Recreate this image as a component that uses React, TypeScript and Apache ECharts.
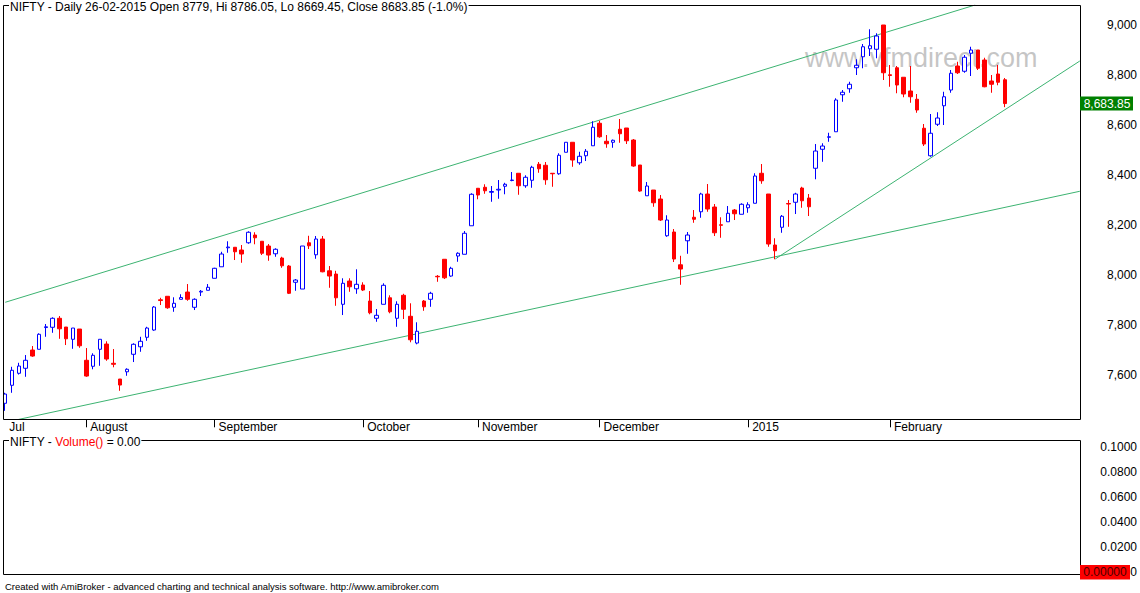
import React, { useEffect, useRef } from "react";
import * as echarts from "echarts";

// ---- data ----
const opens = [
  7485, 7557, 7605, 7625, 7698, 7701, 7788, 7789, 7825, 7790, 7741, 7782,
  7657, 7633, 7701, 7722, 7645, 7582, 7611, 7681, 7711, 7749, 7778, 7899,
  7913, 7869, 7901, 7930, 7869, 7930, 7937, 7985, 8031, 8107, 8109, 8098,
  8127, 8158, 8133, 8114, 8083, 8066, 8034, 7969, 7942, 8127, 8079, 8142,
  8015, 8002, 7881, 7974, 7943, 7958, 7894, 7825, 7881, 7907, 7825, 7917,
  7833, 7726, 7894, 7901, 7993, 8061, 7994, 8074, 8081, 8195, 8345, 8349,
  8329, 8338, 8353, 8376, 8405, 8355, 8377, 8441, 8437, 8405, 8403, 8489,
  8529, 8447, 8475, 8515, 8605, 8533, 8529, 8581, 8586, 8538, 8438, 8315,
  8338, 8302, 8155, 8170, 8039, 8135, 8229, 8251, 8322, 8270, 8199, 8211,
  8258, 8241, 8267, 8285, 8405, 8322, 8118, 8189, 8284, 8289, 8346, 8306,
  8425, 8501, 8549, 8571, 8719, 8743, 8827, 8871, 8903, 8901, 8998, 8799,
  8827, 8789, 8734, 8701, 8585, 8475, 8601, 8675, 8738, 8834, 8813, 8885,
  8898, 8858, 8774, 8802, 8779,
];
const closes = [
  7522, 7617, 7634, 7657, 7674, 7761, 7791, 7825, 7783, 7743, 7786, 7715,
  7594, 7677, 7741, 7662, 7641, 7558, 7621, 7721, 7733, 7786, 7870, 7896,
  7867, 7885, 7908, 7901, 7901, 7933, 7949, 8025, 8082, 8110, 8091, 8082,
  8169, 8147, 8085, 8078, 8101, 8035, 7925, 7978, 8114, 8115, 8142, 8011,
  7994, 7907, 7965, 7951, 7961, 7938, 7847, 7837, 7957, 7851, 7881, 7861,
  7739, 7773, 7871, 7925, 7991, 7987, 8025, 8085, 8165, 8321, 8318, 8335,
  8332, 8341, 8361, 8378, 8355, 8389, 8429, 8423, 8379, 8403, 8477, 8529,
  8458, 8473, 8493, 8589, 8551, 8523, 8537, 8563, 8535, 8434, 8334, 8354,
  8287, 8218, 8218, 8062, 8022, 8158, 8221, 8322, 8262, 8167, 8197, 8245,
  8243, 8281, 8279, 8394, 8375, 8122, 8095, 8233, 8282, 8322, 8295, 8271,
  8494, 8514, 8551, 8698, 8729, 8761, 8837, 8911, 8915, 8954, 8807, 8796,
  8758, 8722, 8711, 8658, 8522, 8565, 8626, 8711, 8805, 8807, 8869, 8898,
  8825, 8751, 8761, 8769, 8683.85,
];
const lows = [
  7455, 7527, 7600, 7591, 7671, 7701, 7751, 7767, 7743, 7718, 7703, 7707,
  7591, 7621, 7635, 7655, 7629, 7535, 7595, 7650, 7691, 7735, 7775, 7878,
  7863, 7851, 7901, 7895, 7858, 7914, 7937, 7985, 8031, 8087, 8058, 8047,
  8123, 8121, 8078, 8055, 8071, 8027, 7922, 7935, 7942, 8102, 8063, 8009,
  7947, 7875, 7838, 7931, 7923, 7934, 7841, 7811, 7881, 7845, 7791, 7822,
  7729, 7721, 7855, 7871, 7971, 7982, 7991, 8051, 8081, 8195, 8301, 8323,
  8291, 8303, 8321, 8373, 8319, 8347, 8347, 8407, 8359, 8351, 8399, 8489,
  8431, 8439, 8454, 8515, 8547, 8507, 8507, 8527, 8522, 8431, 8331, 8315,
  8271, 8214, 8151, 8050, 7959, 8083, 8207, 8227, 8251, 8154, 8147, 8211,
  8218, 8241, 8247, 8285, 8363, 8111, 8061, 8167, 8191, 8242, 8267, 8234,
  8381, 8451, 8531, 8571, 8691, 8727, 8798, 8825, 8874, 8865, 8778, 8751,
  8725, 8709, 8687, 8647, 8514, 8471, 8594, 8598, 8727, 8802, 8807, 8794,
  8818, 8749, 8727, 8757, 8669.45,
];
const highs = [
  7527, 7631, 7647, 7678, 7714, 7765, 7802, 7829, 7834, 7790, 7786, 7782,
  7706, 7685, 7741, 7733, 7702, 7582, 7625, 7725, 7751, 7791, 7874, 7907,
  7913, 7909, 7921, 7962, 7905, 7938, 7962, 8027, 8091, 8133, 8109, 8118,
  8173, 8169, 8133, 8122, 8105, 8071, 8038, 7982, 8114, 8155, 8154, 8154,
  8034, 8015, 7985, 7985, 8021, 7969, 7934, 7862, 7965, 7917, 7893, 7923,
  7885, 7809, 7898, 7931, 7998, 8061, 8031, 8089, 8174, 8325, 8345, 8361,
  8354, 8378, 8367, 8410, 8405, 8397, 8435, 8450, 8450, 8405, 8485, 8529,
  8529, 8491, 8502, 8613, 8615, 8558, 8540, 8622, 8586, 8542, 8438, 8370,
  8338, 8318, 8237, 8182, 8075, 8170, 8258, 8327, 8362, 8282, 8229, 8274,
  8262, 8285, 8289, 8405, 8442, 8322, 8145, 8238, 8298, 8327, 8351, 8322,
  8522, 8525, 8567, 8705, 8738, 8771, 8861, 8922, 8981, 8965, 8998, 8838,
  8834, 8789, 8834, 8722, 8602, 8642, 8649, 8731, 8818, 8851, 8878, 8911,
  8898, 8867, 8798, 8838, 8786.05,
];

const monthStartIdx = [0, 12, 31, 53, 70, 88, 110, 131];
const monthLabels = ["Jul", "August", "September", "October", "November", "December", "2015", "February"];
const totalSlots = 160;

const priceTicks = [7600, 7800, 8000, 8200, 8400, 8600, 8800, 9000];
const volumeTicks = [0, 0.02, 0.04, 0.06, 0.08, 0.1];

const trendTop = [[0, 7889], [143.6, 9078]];
const trendLow = [[0, 7409], [159.1, 8333]];
const trendRise = [[114, 8062], [159.1, 8854]];

const titleText =
  "NIFTY - Daily 26-02-2015 Open 8779, Hi 8786.05, Lo 8669.45, Close 8683.85 (-1.0%)";
const lastClose = 8683.85;
const lastCloseLabel = "8,683.85";
const volumeValueLabel = "0.00";
const watermark = "www.vfmdirect.com";
const footer =
  "Created with AmiBroker - advanced charting and technical analysis software. http://www.amibroker.com";

const FONT = '"Liberation Sans", Arial, sans-serif';

export default function App() {
  const ref = useRef<HTMLDivElement>(null);

  useEffect(() => {
    if (!ref.current) return;
    const chart = echarts.init(ref.current, undefined, { renderer: "svg" });

    const bandW = 6.754;
    const gridLeft = 1.87;
    const gridWidth = bandW * totalSlots;

    const cats: string[] = [];
    for (let i = 0; i < totalSlots; i++) {
      const k = monthStartIdx.indexOf(i);
      cats.push(k >= 0 ? monthLabels[k] : "");
    }
    const candles = opens.map((o, i) => [o, closes[i], lows[i], highs[i]]);

    const lineSeries = (data: number[][]) => ({
      type: "line",
      xAxisIndex: 1,
      yAxisIndex: 0,
      data,
      symbol: "none",
      showSymbol: false,
      silent: true,
      clip: true,
      lineStyle: { color: "#3cb371", width: 1 },
      z: 2,
    });

    const option: any = {
      animation: false,
      textStyle: { fontFamily: FONT },
      grid: [
        { left: gridLeft, top: 5, width: gridWidth, height: 414.3, show: false },
        { left: gridLeft, top: 440.5, width: gridWidth, height: 133.5, show: false },
      ],
      xAxis: [
        {
          type: "category",
          gridIndex: 0,
          data: cats,
          boundaryGap: true,
          axisLine: { show: false },
          axisTick: {
            show: true,
            alignWithLabel: true,
            interval: (i: number) => i !== 0 && monthStartIdx.includes(i),
            length: 8,
            lineStyle: { color: "#000", width: 1 },
          },
          axisLabel: {
            interval: (i: number) => monthStartIdx.includes(i),
            align: "left",
            padding: [0, 0, 0, 4],
            margin: 2,
            color: "#000",
            fontSize: 12,
            fontFamily: FONT,
          },
          splitLine: { show: false },
        },
        { type: "value", gridIndex: 0, min: -0.5, max: totalSlots - 0.5, show: false },
        { type: "category", gridIndex: 1, data: cats, show: false },
      ],
      yAxis: [
        {
          type: "value",
          gridIndex: 0,
          position: "right",
          min: 7421,
          max: 9078,
          axisLine: { show: false },
          axisTick: { show: false },
          splitLine: { show: false },
          axisLabel: {
            customValues: priceTicks,
            formatter: (v: number) => v.toLocaleString("en-US"),
            align: "right",
            margin: 1137 - (gridLeft + gridWidth),
            color: "#000",
            fontSize: 12,
            fontFamily: FONT,
          },
        },
        {
          type: "value",
          gridIndex: 1,
          position: "right",
          min: -0.00193,
          max: 0.10547,
          axisLine: { show: false },
          axisTick: { show: false },
          splitLine: { show: false },
          axisLabel: {
            customValues: volumeTicks,
            // the zero label is mostly hidden behind the red value tag; only its last digit shows
            formatter: (v: number) => (v === 0 ? "0" : v.toFixed(4)),
            align: "right",
            margin: 1137 - (gridLeft + gridWidth),
            color: "#000",
            fontSize: 12,
            fontFamily: FONT,
          },
        },
      ],
      series: [
        {
          type: "candlestick",
          xAxisIndex: 0,
          yAxisIndex: 0,
          data: candles,
          barWidth: 4,
          itemStyle: {
            color: "#ffffff",
            color0: "#ff0000",
            borderColor: "#0000ff",
            borderColor0: "#ff0000",
            borderWidth: 1,
          },
          z: 3,
        },
        lineSeries(trendTop),
        lineSeries(trendLow),
        lineSeries(trendRise),
      ],
    };
    chart.setOption(option);

    const yClose = chart.convertToPixel({ yAxisIndex: 0 } as any, lastClose) as number;
    const yZero = chart.convertToPixel({ yAxisIndex: 1 } as any, 0) as number;

    chart.setOption({
      graphic: [
        {
          type: "text",
          z: 0,
          silent: true,
          style: {
            text: watermark,
            x: 805,
            y: 57.5,
            font: `27px ${FONT}`,
            fill: "rgba(140,140,140,0.5)",
            align: "left",
            verticalAlign: "middle",
          },
        },
        {
          type: "rect",
          z: 20,
          silent: true,
          shape: { x: 3.5, y: 5.5, width: 1077, height: 414 },
          style: { fill: "none", stroke: "#000", lineWidth: 1 },
        },
        {
          type: "rect",
          z: 20,
          silent: true,
          shape: { x: 3.5, y: 440.5, width: 1077, height: 134 },
          style: { fill: "none", stroke: "#000", lineWidth: 1 },
        },
        {
          type: "text",
          z: 30,
          silent: true,
          style: {
            text: titleText,
            x: 9,
            y: 7,
            font: `12px ${FONT}`,
            fill: "#000",
            backgroundColor: "#fff",
            padding: [0, 1, 0, 1],
            align: "left",
            verticalAlign: "middle",
          },
        },
        {
          type: "text",
          z: 30,
          silent: true,
          style: {
            text: `{a|NIFTY - }{b|Volume()}{a| = ${volumeValueLabel}}`,
            x: 9,
            y: 441.5,
            font: `12px ${FONT}`,
            fill: "#000",
            backgroundColor: "#fff",
            padding: [0, 1, 0, 1],
            align: "left",
            verticalAlign: "middle",
            rich: {
              a: { fill: "#000", color: "#000", font: `12px ${FONT}` },
              b: { fill: "#ff0000", color: "#ff0000", font: `12px ${FONT}` },
            },
          },
        },
        {
          type: "rect",
          z: 30,
          silent: true,
          shape: { x: 1080, y: yClose - 7, width: 53, height: 14 },
          style: { fill: "#008000" },
        },
        {
          type: "text",
          z: 31,
          silent: true,
          style: {
            text: lastCloseLabel,
            x: 1107,
            y: yClose,
            font: `12px ${FONT}`,
            fill: "#ffffff",
            align: "center",
            verticalAlign: "middle",
          },
        },
        {
          type: "rect",
          z: 30,
          silent: true,
          shape: { x: 1080, y: yZero - 6.5, width: 50, height: 14.3 },
          style: { fill: "#ff0000" },
        },
        {
          type: "text",
          z: 31,
          silent: true,
          style: {
            text: "0.00000",
            x: 1105,
            y: yZero + 0.5,
            font: `12px ${FONT}`,
            fill: "#4a0000",
            align: "center",
            verticalAlign: "middle",
          },
        },
        {
          type: "text",
          z: 30,
          silent: true,
          style: {
            text: footer,
            x: 5,
            y: 586.5,
            font: `9.5px ${FONT}`,
            fill: "#000",
            align: "left",
            verticalAlign: "middle",
          },
        },
      ],
    });

    return () => chart.dispose();
  }, []);

  return (
    <div
      ref={ref}
      style={{ position: "fixed", left: 0, top: 0, width: 1140, height: 593, background: "#fff" }}
    />
  );
}
